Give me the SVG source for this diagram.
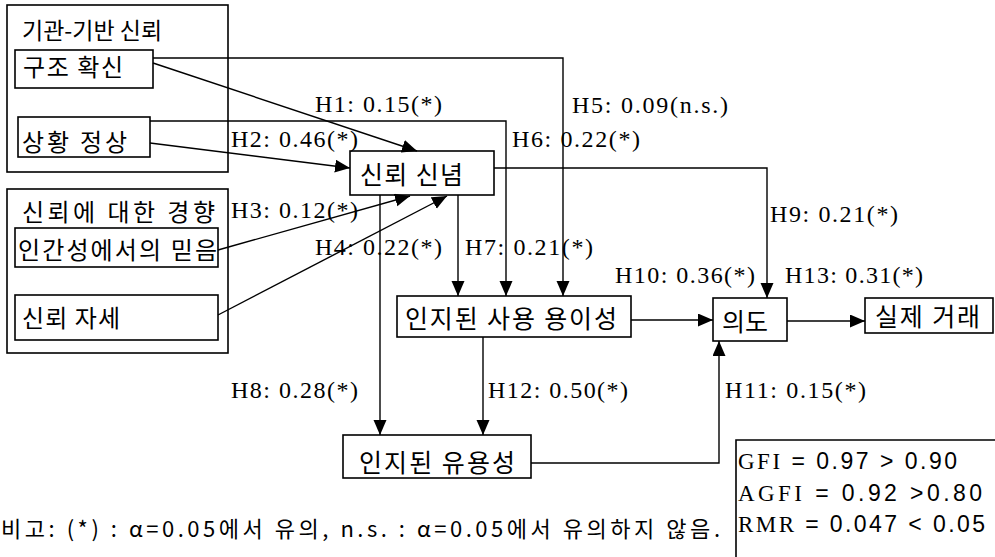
<svg xmlns="http://www.w3.org/2000/svg" width="995" height="557" viewBox="0 0 995 557">
<style>
.box{fill:#fff;stroke:#000;stroke-width:1.6}
.grp{fill:none;stroke:#000;stroke-width:1.6}
.ko{font-family:"Noto Sans CJK KR","Noto Sans",sans-serif;font-size:24px;fill:#000}
.lbl{font-family:"Liberation Serif",serif;font-size:24px;fill:#000}
.fit{font-family:"Liberation Sans",sans-serif;font-size:23px;fill:#000}
.ser{font-family:"Liberation Serif",serif}
.c{fill:none;stroke:#000;stroke-width:1.4}
</style>
<defs>
<marker id="ah" markerUnits="userSpaceOnUse" markerWidth="16" markerHeight="14" refX="15" refY="6.5" orient="auto">
<path d="M0,0 L15,6.5 L0,13 Z" fill="#000"/>
</marker>
</defs>
<rect width="995" height="557" fill="#fff"/>

<g id="group-institution">
<rect class="grp" x="7" y="5" width="221" height="167"/>
<text class="ko" style="font-size:23px" x="22" y="39">기관-기반 신뢰</text>
</g>
<g id="node-structural">
<rect class="box" x="15" y="50" width="138" height="38"/>
<text class="ko" x="23" y="76" textLength="100" lengthAdjust="spacing">구조 확신</text>
</g>
<g id="node-situational">
<rect class="box" x="18" y="117" width="132" height="40"/>
<text class="ko" x="22" y="151" textLength="105" lengthAdjust="spacing">상황 정상</text>
</g>

<g id="group-disposition">
<rect class="grp" x="7" y="189" width="221" height="164"/>
<text class="ko" x="22" y="221" textLength="193" lengthAdjust="spacing">신뢰에 대한 경향</text>
</g>
<g id="node-humanity">
<rect class="box" x="15" y="228" width="203" height="39"/>
<text class="ko" x="18" y="259" textLength="199" lengthAdjust="spacing">인간성에서의 믿음</text>
</g>
<g id="node-stance">
<rect class="box" x="15" y="295" width="203" height="45"/>
<text class="ko" x="22" y="327" textLength="98" lengthAdjust="spacing">신뢰 자세</text>
</g>

<g id="node-trust-belief">
<rect class="box" x="350" y="151" width="144" height="44"/>
<text class="ko" style="font-size:25px" x="360" y="184" textLength="103" lengthAdjust="spacing">신뢰 신념</text>
</g>
<g id="node-ease">
<rect class="box" x="397" y="296" width="234" height="41"/>
<text class="ko" style="font-size:25px" x="405" y="328" textLength="212" lengthAdjust="spacing">인지된 사용 용이성</text>
</g>
<g id="node-usefulness">
<rect class="box" x="343" y="435" width="188" height="43"/>
<text class="ko" style="font-size:25px" x="359" y="472" textLength="156" lengthAdjust="spacing">인지된 유용성</text>
</g>
<g id="node-intention">
<rect class="box" x="713" y="298" width="74" height="43"/>
<text class="ko" style="font-size:25px" x="722" y="331">의도</text>
</g>
<g id="node-actual">
<rect class="box" x="865" y="298" width="128" height="35"/>
<text class="ko" style="font-size:25px" x="875" y="326" textLength="105" lengthAdjust="spacing">실제 거래</text>
</g>

<g id="connectors">
<path class="c" d="M153,63 L417,151" marker-end="url(#ah)"/>
<path class="c" d="M153,58 H563 V296" marker-end="url(#ah)"/>
<path class="c" d="M150,143 L350,168" marker-end="url(#ah)"/>
<path class="c" d="M150,121 H506 V296" marker-end="url(#ah)"/>
<path class="c" d="M218,250 L410,196" marker-end="url(#ah)"/>
<path class="c" d="M218,315 L447,196" marker-end="url(#ah)"/>
<path class="c" d="M494,168 H767 V298" marker-end="url(#ah)"/>
<path class="c" d="M458,195 V296" marker-end="url(#ah)"/>
<path class="c" d="M380,195 V435" marker-end="url(#ah)"/>
<path class="c" d="M631,320 H713" marker-end="url(#ah)"/>
<path class="c" d="M531,463 H719 V341" marker-end="url(#ah)"/>
<path class="c" d="M483,337 V435" marker-end="url(#ah)"/>
<path class="c" d="M787,321 H865" marker-end="url(#ah)"/>
</g>

<g id="labels">
<text class="lbl" x="315" y="112" textLength="127" lengthAdjust="spacing">H1: 0.15(*)</text>
<text class="lbl" x="231" y="147" textLength="127" lengthAdjust="spacing">H2: 0.46(*)</text>
<text class="lbl" x="231" y="218" textLength="127" lengthAdjust="spacing">H3: 0.12(*)</text>
<text class="lbl" x="315" y="255" textLength="127" lengthAdjust="spacing">H4: 0.22(*)</text>
<text class="lbl" x="572" y="113" textLength="156" lengthAdjust="spacing">H5: 0.09(n.s.)</text>
<text class="lbl" x="512" y="147" textLength="128" lengthAdjust="spacing">H6: 0.22(*)</text>
<text class="lbl" x="465" y="255" textLength="128" lengthAdjust="spacing">H7: 0.21(*)</text>
<text class="lbl" x="231" y="398" textLength="127" lengthAdjust="spacing">H8: 0.28(*)</text>
<text class="lbl" x="770" y="222" textLength="128" lengthAdjust="spacing">H9: 0.21(*)</text>
<text class="lbl" x="615" y="283" textLength="140" lengthAdjust="spacing">H10: 0.36(*)</text>
<text class="lbl" x="725" y="398" textLength="141" lengthAdjust="spacing">H11: 0.15(*)</text>
<text class="lbl" x="488" y="398" textLength="140" lengthAdjust="spacing">H12: 0.50(*)</text>
<text class="lbl" x="785" y="283" textLength="138" lengthAdjust="spacing">H13: 0.31(*)</text>
</g>

<g id="fit-indices">
<path class="grp" d="M996,440 H736 V558"/>
<text class="fit" x="738" y="469" textLength="219" lengthAdjust="spacing"><tspan class="ser">GFI</tspan> = 0.97 &gt; 0.90</text>
<text class="fit" x="738" y="501" textLength="244" lengthAdjust="spacing"><tspan class="ser">AGFI</tspan> = 0.92 &gt;0.80</text>
<text class="fit" x="738" y="532" textLength="247" lengthAdjust="spacing"><tspan class="ser">RMR</tspan> = 0.047 &lt; 0.05</text>
</g>

<g id="note">
<text class="ko" style="font-size:22px" x="1" y="537" textLength="719" lengthAdjust="spacing">비고: (*) : α=0.05에서 유의, n.s. : α=0.05에서 유의하지 않음.</text>
</g>
</svg>
